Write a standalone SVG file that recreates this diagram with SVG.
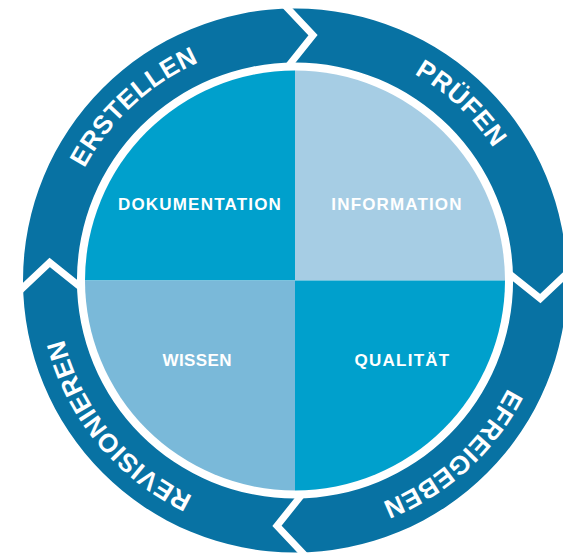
<svg xmlns="http://www.w3.org/2000/svg" xmlns:xlink="http://www.w3.org/1999/xlink" width="563" height="553" viewBox="0 0 563 553">
  <style>
    .ring { fill: #0872a3; fill-rule: evenodd; }
    .sep { fill: none; stroke: #ffffff; stroke-width: 7; stroke-linejoin: miter; stroke-miterlimit: 10; }
    .stage { font-family: "Liberation Sans", Arial, sans-serif; font-weight: bold; font-size: 26px; fill: #ffffff; letter-spacing: 0.5px; }
    .qlabel { font-family: "Liberation Sans", Arial, sans-serif; font-weight: bold; font-size: 17px; fill: #ffffff; text-anchor: middle; }
    .q-cyan { fill: #00a0cc; }
    .q-light { fill: #a6cde4; }
    .q-mid { fill: #7ab9d9; }
  </style>
  <defs>
    <path id="annulus" d="M295 8.5 A272 272 0 1 1 295 552.5 A272 272 0 1 1 295 8.5 Z M295 62.5 A218 218 0 1 0 295 498.5 A218 218 0 1 0 295 62.5 Z"/>
    <path id="textCircle" d="M295 42 A238.5 238.5 0 1 1 295 519 A238.5 238.5 0 1 1 295 42"/>
    <polyline id="chev" points="-14.6,-279.9 18,-245.3 -12.5,-207.1"/>
    <clipPath id="cp-pruefen"><polygon transform="translate(295 280.5)" points="0,0 -12.5,-207.1 18,-245.3 -14.6,-279.9 -22,-420 420,-420 420,-22 279.9,-14.6 245.3,18 207.1,-12.5"/></clipPath>
    <clipPath id="cp-freigeben"><polygon transform="translate(295 280.5) rotate(90)" points="0,0 -12.5,-207.1 18,-245.3 -14.6,-279.9 -22,-420 420,-420 420,-22 279.9,-14.6 245.3,18 207.1,-12.5"/></clipPath>
    <clipPath id="cp-revision"><polygon transform="translate(295 280.5) rotate(180)" points="0,0 -12.5,-207.1 18,-245.3 -14.6,-279.9 -22,-420 420,-420 420,-22 279.9,-14.6 245.3,18 207.1,-12.5"/></clipPath>
    <clipPath id="cp-erstellen"><polygon transform="translate(295 280.5) rotate(270)" points="0,0 -12.5,-207.1 18,-245.3 -14.6,-279.9 -22,-420 420,-420 420,-22 279.9,-14.6 245.3,18 207.1,-12.5"/></clipPath>
  </defs>

  <rect width="563" height="553" fill="#ffffff"/>

  <g id="stage-erstellen">
    <use xlink:href="#annulus" href="#annulus" class="ring" clip-path="url(#cp-erstellen)"/>
    <text class="stage"><textPath xlink:href="#textCircle" href="#textCircle" startOffset="88.1%" text-anchor="middle">ERSTELLEN</textPath></text>
  </g>
  <g id="stage-pruefen">
    <use xlink:href="#annulus" href="#annulus" class="ring" clip-path="url(#cp-pruefen)"/>
    <text class="stage"><textPath xlink:href="#textCircle" href="#textCircle" startOffset="12%" text-anchor="middle">PRÜFEN</textPath></text>
  </g>
  <g id="stage-freigeben">
    <use xlink:href="#annulus" href="#annulus" class="ring" clip-path="url(#cp-freigeben)"/>
    <text class="stage"><textPath xlink:href="#textCircle" href="#textCircle" startOffset="38.26%" text-anchor="middle">EFREIGEBEN</textPath></text>
  </g>
  <g id="stage-revisionieren">
    <use xlink:href="#annulus" href="#annulus" class="ring" clip-path="url(#cp-revision)"/>
    <text class="stage"><textPath xlink:href="#textCircle" href="#textCircle" startOffset="64.06%" text-anchor="middle">REVISIONIEREN</textPath></text>
  </g>

  <g id="connectors">
    <use xlink:href="#chev" href="#chev" class="sep" transform="translate(295 280.5)"/>
    <use xlink:href="#chev" href="#chev" class="sep" transform="translate(295 280.5) rotate(90)"/>
    <use xlink:href="#chev" href="#chev" class="sep" transform="translate(295 280.5) rotate(180)"/>
    <use xlink:href="#chev" href="#chev" class="sep" transform="translate(295 280.5) rotate(270)"/>
  </g>

  <g id="q-dokumentation">
    <path class="q-cyan" d="M295 280.5 L85 280.5 A210 210 0 0 1 295 70.5 Z"/>
    <text class="qlabel" x="200" y="210" letter-spacing="1.2">DOKUMENTATION</text>
  </g>
  <g id="q-information">
    <path class="q-light" d="M295 280.5 L295 70.5 A210 210 0 0 1 505 280.5 Z"/>
    <text class="qlabel" x="397" y="210" letter-spacing="1.15">INFORMATION</text>
  </g>
  <g id="q-qualitaet">
    <path class="q-cyan" d="M295 280.5 L505 280.5 A210 210 0 0 1 295 490.5 Z"/>
    <text class="qlabel" x="402.5" y="366" letter-spacing="1.25">QUALITÄT</text>
  </g>
  <g id="q-wissen">
    <path class="q-mid" d="M295 280.5 L295 490.5 A210 210 0 0 1 85 280.5 Z"/>
    <text class="qlabel" x="197.2" y="366" letter-spacing="0.35">WISSEN</text>
  </g>
</svg>
